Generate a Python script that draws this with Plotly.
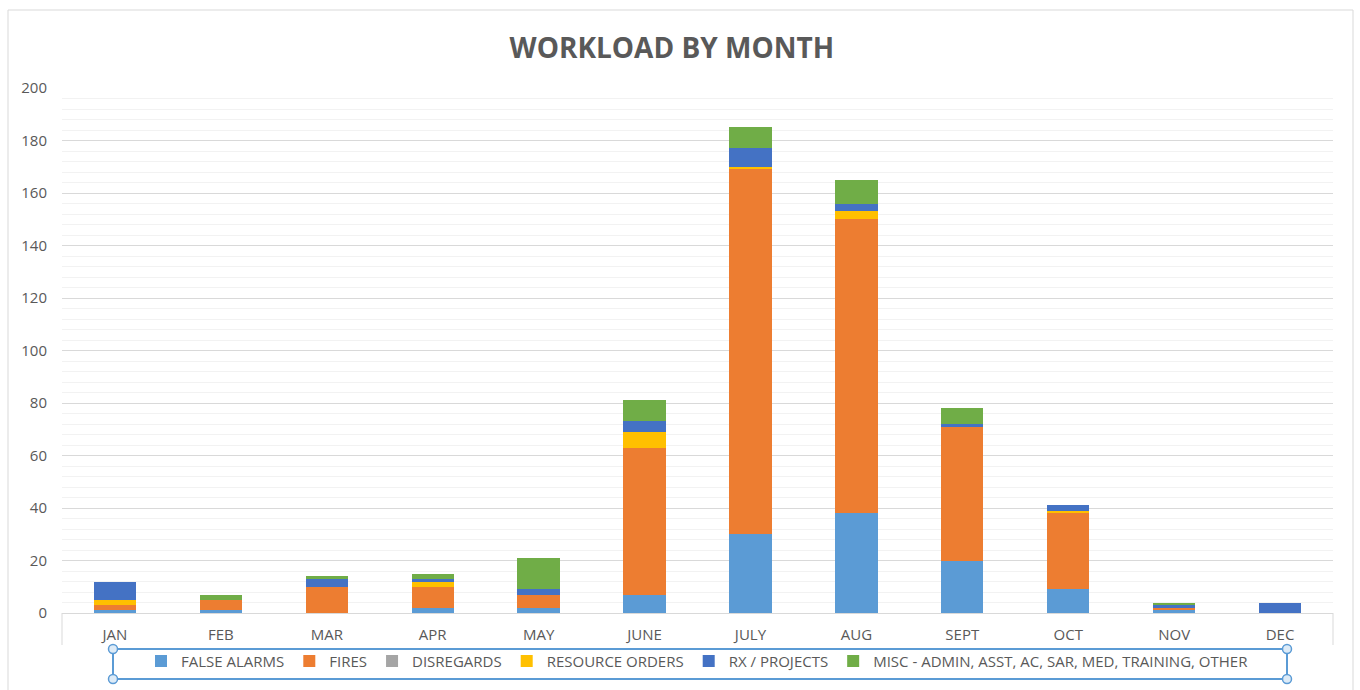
import plotly.graph_objects as go

# Workload by month
MONTHS = ['JAN', 'FEB', 'MAR', 'APR', 'MAY', 'JUNE', 'JULY', 'AUG', 'SEPT', 'OCT', 'NOV', 'DEC']

FALSE_ALARMS = [1, 1, 0, 2, 2, 7, 30, 38, 20, 9, 1, 0]
FIRES = [2, 4, 10, 8, 5, 56, 139, 112, 51, 29, 1, 0]
DISREGARDS = [0, 0, 0, 0, 0, 0, 0, 0, 0, 0, 0, 0]
RESOURCE_ORDERS = [2, 0, 0, 2, 0, 6, 1, 3, 0, 1, 0, 0]
RX_PROJECTS = [7, 0, 3, 1, 2, 4, 7, 3, 1, 2, 1, 4]
MISC = [0, 2, 1, 2, 12, 8, 8, 9, 6, 0, 1, 0]

SERIES = [
    ('FALSE ALARMS', FALSE_ALARMS, '#5B9BD5'),
    ('FIRES', FIRES, '#ED7D31'),
    ('DISREGARDS', DISREGARDS, '#A5A5A5'),
    ('RESOURCE ORDERS', RESOURCE_ORDERS, '#FFC000'),
    ('RX / PROJECTS', RX_PROJECTS, '#4472C4'),
    ('MISC - ADMIN, ASST, AC, SAR, MED, TRAINING, OTHER', MISC, '#70AD47'),
]

Y_TICKS = [0, 20, 40, 60, 80, 100, 120, 140, 160, 180, 200]

W, H = 1360, 690
ML, MR, MT, MB = 62, 27, 88, 77

fig = go.Figure()

for name, vals, color in SERIES:
    fig.add_trace(go.Bar(
        x=MONTHS, y=vals, name=name,
        marker=dict(color=color, line=dict(width=0)),
    ))

fig.update_layout(
    barmode='stack',
    bargap=0.6,
    width=W, height=H,
    paper_bgcolor='white',
    plot_bgcolor='white',
    margin=dict(l=ML, r=MR, t=MT, b=MB),
    font=dict(family='Open Sans, Segoe UI, sans-serif', color='#595959', size=14),
    title=dict(
        text='<b>WORKLOAD BY MONTH</b>',
        x=0.494, xanchor='center', y=0.93, yanchor='middle',
        font=dict(size=28, color='#595959', family='Open Sans, sans-serif'),
    ),
    showlegend=True,
    legend=dict(
        orientation='h',
        x=0.5, xanchor='center',
        y=-0.092, yanchor='middle',
        font=dict(size=15, color='#595959'),
        itemwidth=30,
        traceorder='normal',
        bgcolor='rgba(0,0,0,0)',
    ),
    yaxis=dict(
        range=[0, 200],
        tickvals=Y_TICKS,
        showgrid=True, gridcolor='#D9D9D9', gridwidth=1,
        minor=dict(dtick=4, showgrid=True, gridcolor='#F2F2F2', gridwidth=1),
        zeroline=False,
        showline=False,
        ticks='',
        ticklabelstandoff=14,
        tickfont=dict(size=15, color='#595959'),
    ),
    xaxis=dict(
        showline=True, linecolor='#D9D9D9', linewidth=1,
        ticks='', showgrid=False,
        ticklabelstandoff=8,
        tickfont=dict(size=15, color='#595959'),
    ),
)

pw, ph = W - ML - MR, H - MT - MB

# chart-area border
fig.add_shape(type='rect', xref='paper', yref='paper',
              x0=-(ML - 8) / pw, x1=1 + (MR - 7) / pw,
              y0=-(MB + 5) / ph, y1=1 + (MT - 10) / ph,
              line=dict(color='#D9D9D9', width=1), fillcolor='rgba(0,0,0,0)', layer='below')

# category-axis end ticks
for xp in [0, 1]:
    fig.add_shape(type='line', xref='paper', yref='paper',
                  x0=xp, x1=xp, y0=0, y1=-32 / ph,
                  line=dict(color='#D9D9D9', width=1))

# legend selection box with handles
lx0, lx1 = (113 - ML) / pw, (1287 - ML) / pw
ly0, ly1 = -(679 - (H - MB)) / ph, -(649 - (H - MB)) / ph
fig.add_shape(type='rect', xref='paper', yref='paper',
              x0=lx0, x1=lx1, y0=ly0, y1=ly1,
              line=dict(color='#5B9BD5', width=2), fillcolor='rgba(0,0,0,0)')
for hx in [lx0, lx1]:
    for hy in [ly0, ly1]:
        fig.add_shape(type='circle', xref='paper', yref='paper',
                      x0=hx - 4.5 / pw, x1=hx + 4.5 / pw,
                      y0=hy - 4.5 / ph, y1=hy + 4.5 / ph,
                      line=dict(color='#5B9BD5', width=1.5), fillcolor='#DDEBF7')

fig.write_html('out.html', config={'displayModeBar': False},
               post_script="document.body.style.margin='0';document.body.style.overflow='hidden';")
